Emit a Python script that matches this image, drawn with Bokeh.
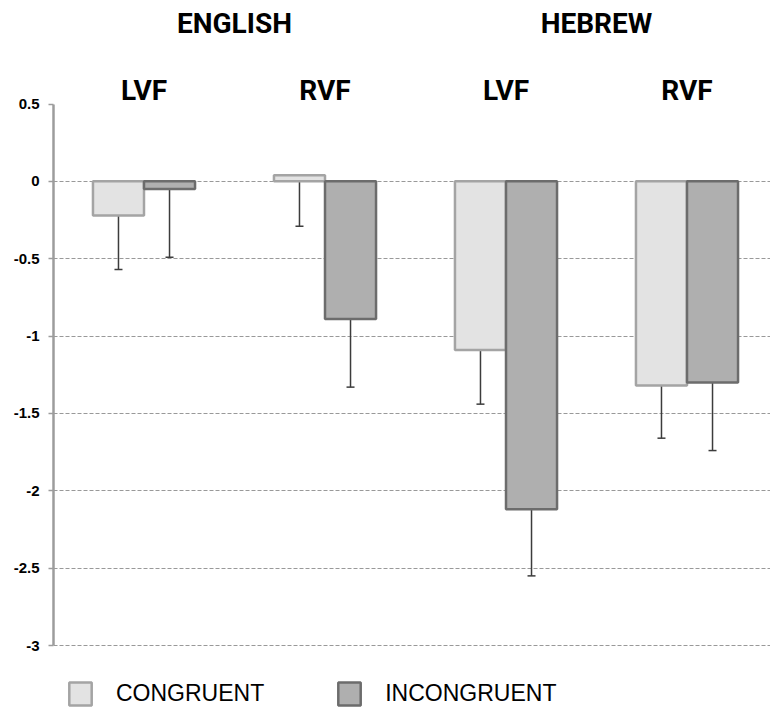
import numpy as np
from bokeh.plotting import figure
from bokeh.models import (ColumnDataSource, Range1d, FixedTicker, Whisker, TeeHead,
                          Legend, LegendItem)
from bokeh.core.properties import value
from bokeh.transform import dodge
from bokeh.embed import file_html
from bokeh.resources import INLINE

# ---- data ----
languages = ["ENGLISH", "HEBREW"]
fields = ["LVF", "RVF", "LVF", "RVF"]
congruent = [-0.22, 0.04, -1.09, -1.32]
congruent_err = [0.35, 0.33, 0.35, 0.34]
incongruent = [-0.05, -0.89, -2.12, -1.30]
incongruent_err = [0.44, 0.44, 0.43, 0.44]
y_ticks = [0.5, 0, -0.5, -1, -1.5, -2, -2.5, -3]
y_tick_labels = ["0.5", "0", "-0.5", "-1", "-1.5", "-2", "-2.5", "-3"]
grid_ticks = [0, -0.5, -1, -1.5, -2, -2.5, -3]

# ---- layout ----
W, H = 770, 711
LEFT = 53
px_per_unit_y = (645 - 103.5) / 3.5
y_top = 0.5 + 103.5 / px_per_unit_y
y_bot = -3 - (H - 645) / px_per_unit_y
x_end = (W - LEFT) / 181.0
bar_w = 0.282

x = np.arange(len(fields)) + 0.5
src = ColumnDataSource(dict(
    x=x, field=fields,
    c=congruent, c_low=np.array(congruent) - np.array(congruent_err),
    i=incongruent, i_low=np.array(incongruent) - np.array(incongruent_err),
))

p = figure(width=W, height=H, output_backend="svg", toolbar_location=None,
           x_range=Range1d(0, x_end), y_range=Range1d(y_bot, y_top),
           min_border_left=LEFT, min_border_right=0, min_border_top=0, min_border_bottom=0)
p.outline_line_color = None
p.background_fill_color = "white"
p.xaxis.visible = False
p.xgrid.visible = False

p.ygrid.ticker = FixedTicker(ticks=grid_ticks)
p.ygrid.grid_line_color = "#999999"
p.ygrid.grid_line_dash = "4 2"
p.ygrid.grid_line_width = 1

ax = p.yaxis[0]
ax.ticker = FixedTicker(ticks=y_ticks)
ax.major_label_overrides = {t: l for t, l in zip(y_ticks, y_tick_labels)}
ax.bounds = (-3, 0.5)
ax.axis_line_color = "#9c9c9c"
ax.axis_line_width = 2.5
ax.major_tick_line_color = "#9c9c9c"
ax.major_tick_line_width = 1.5
ax.major_tick_in = 0
ax.major_tick_out = 5
ax.minor_tick_line_color = None
ax.major_label_standoff = 9
ax.major_label_text_font = "Liberation Sans"
ax.major_label_text_font_style = "bold"
ax.major_label_text_font_size = "15px"
ax.major_label_text_color = "black"

r_c = p.vbar(x=dodge("x", -bar_w / 2, range=p.x_range), top="c", bottom=0, width=bar_w,
             source=src, fill_color="#e3e3e3", line_color="#a4a4a4", line_width=2.5)
r_i = p.vbar(x=dodge("x", bar_w / 2, range=p.x_range), top="i", bottom=0, width=bar_w,
             source=src, fill_color="#afafaf", line_color="#6c6c6c", line_width=2.5)

for off, top, low in [(-bar_w / 2, "c", "c_low"), (bar_w / 2, "i", "i_low")]:
    w = Whisker(source=src, base=dodge("x", off, range=p.x_range), upper=top, lower=low,
                dimension="height", line_color="#3c3c3c", line_width=1.5,
                upper_head=None,
                lower_head=TeeHead(size=8, line_color="#3c3c3c", line_width=1.5))
    p.add_layout(w)

title_font = value("Roboto")
# field labels
p.text(x="x", y=0.5 + (103.5 - 90) / px_per_unit_y, text="field", source=src,
       text_font=title_font, text_font_style="bold",
       text_font_size="28px", text_align="center", text_baseline="middle",
       text_color="black")
# language labels
lang_src = ColumnDataSource(dict(
    x=[x[0:2].mean(), x[2:4].mean()], lang=languages))
p.text(x="x", y=0.5 + (103.5 - 22.5) / px_per_unit_y, text="lang", source=lang_src,
       text_font=title_font, text_font_style="bold",
       text_font_size="28px", text_align="center", text_baseline="middle",
       text_color="black")

legend = Legend(items=[LegendItem(label="CONGRUENT", renderers=[r_c]),
                       LegendItem(label="INCONGRUENT", renderers=[r_i])],
                orientation="horizontal", location=(13, 3))
legend.glyph_width = 28
legend.glyph_height = 29
legend.label_standoff = 22
legend.spacing = 71
legend.padding = 0
legend.margin = 0
legend.border_line_color = None
legend.background_fill_alpha = 0
legend.label_text_font = "Liberation Sans"
legend.label_text_font_size = "23px"
legend.label_text_color = "black"
legend.label_height = 29
p.add_layout(legend)

open("out.html", "w").write(file_html(p, INLINE))
